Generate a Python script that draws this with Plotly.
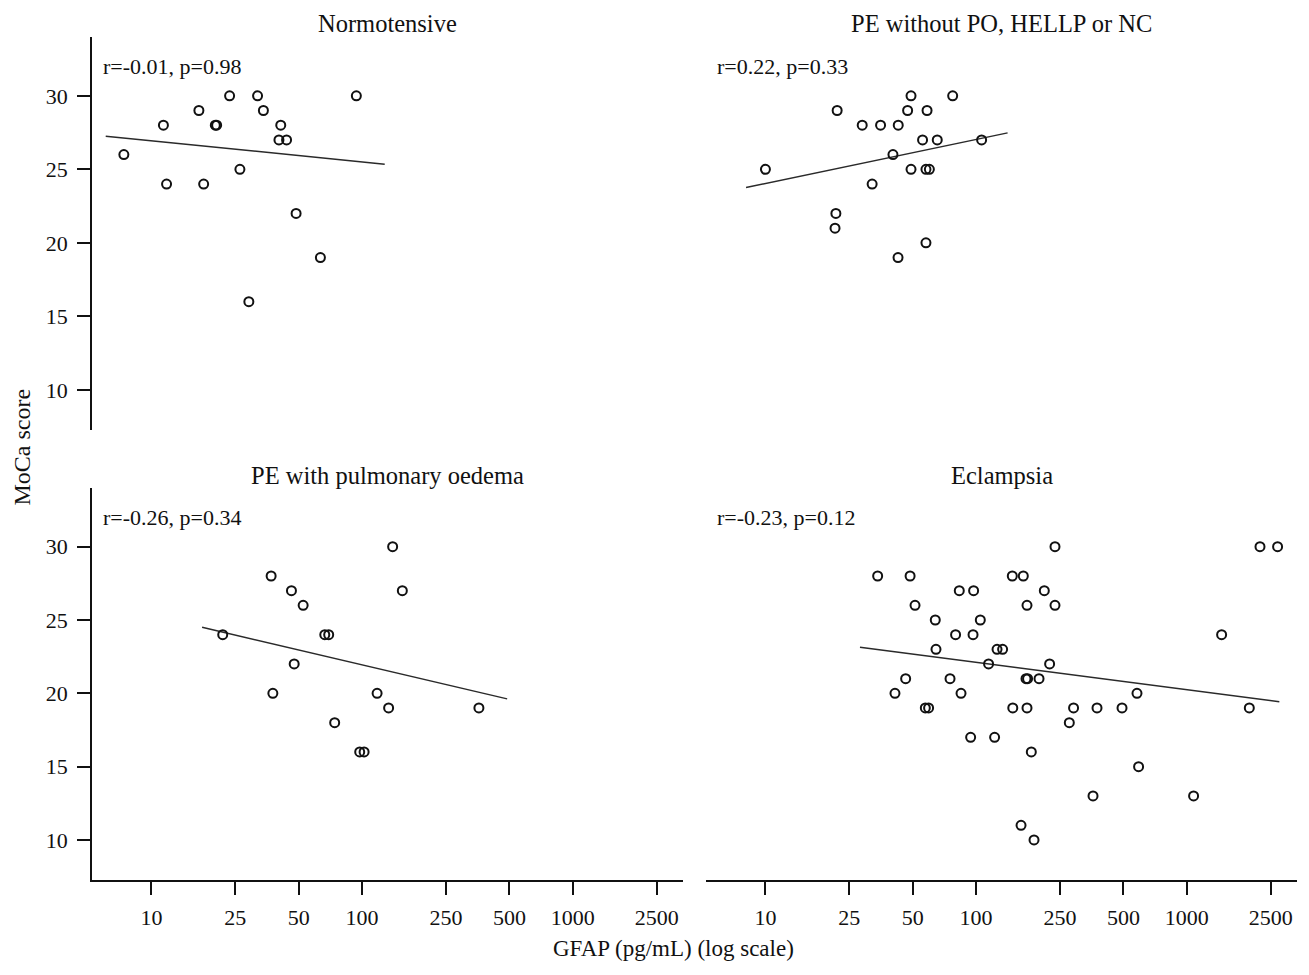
import plotly.graph_objects as go

# ---- data -----------------------------------------------------------------
panel_titles = ["Normotensive", "PE without PO, HELLP or NC",
                "PE with pulmonary oedema", "Eclampsia"]
stat_labels = ["r=-0.01, p=0.98", "r=0.22, p=0.33",
               "r=-0.26, p=0.34", "r=-0.23, p=0.12"]

normo_gfap = [7.4, 11.4, 11.8, 16.8, 17.7, 20.1, 20.4, 23.5, 26.3, 29.0,
              31.9, 34.0, 41.1, 40.3, 43.8, 48.6, 63.4, 93.9]
normo_moca = [26, 28, 24, 29, 24, 28, 28, 30, 25, 16,
              30, 29, 28, 27, 27, 22, 19, 30]

pe_gfap = [10.0, 21.9, 32.1, 28.8, 35.2, 42.7, 40.3, 49.1, 47.3, 58.5,
           77.4, 55.7, 65.4, 106.2, 49.1, 57.8, 60.0, 21.6, 21.4, 57.8, 42.6]
pe_moca = [25, 29, 24, 28, 28, 28, 26, 30, 29, 29,
           30, 27, 27, 27, 25, 25, 25, 22, 21, 20, 19]

po_gfap = [21.8, 37.0, 37.7, 46.2, 47.6, 52.5, 66.5, 69.4, 74.1, 97.4,
           102.2, 117.8, 133.6, 139.6, 155.2, 358.4]
po_moca = [24, 28, 20, 27, 22, 26, 24, 24, 18, 16,
           16, 20, 19, 30, 27, 19]

ecl_gfap = [34.1, 48.6, 148.5, 167.5, 83.2, 97.3, 210.7, 51.3, 174.4, 236.8,
            64.0, 104.7, 79.9, 96.7, 1463, 64.5, 125.7, 133.6, 114.6, 223.3,
            46.3, 75.2, 172.5, 175.5, 198.9, 41.2, 84.8, 580.2, 57.4, 59.5,
            149.3, 174.4, 290.1, 374.8, 492.6, 1980, 276.9, 94.2, 122.4, 182.8,
            590.4, 358.8, 1077, 163.4, 188.3, 236.8, 2225, 2697]
ecl_moca = [28, 28, 28, 28, 27, 27, 27, 26, 26, 26,
            25, 25, 24, 24, 24, 23, 23, 23, 22, 22,
            21, 21, 21, 21, 21, 20, 20, 20, 19, 19,
            19, 19, 19, 19, 19, 19, 18, 17, 17, 16,
            15, 13, 13, 11, 10, 30, 30, 30]

# fitted regression lines (end points)
fit_gfap = [[6.07, 128.0], [8.09, 141.1], [17.4, 488.0], [28.1, 2749.0]]
fit_moca = [[27.25, 25.35], [23.76, 27.48], [24.5, 19.62], [23.14, 19.43]]

x_ticks = [10, 25, 50, 100, 250, 500, 1000, 2500]
x_tick_text = [str(v) for v in x_ticks]
y_ticks = [10, 15, 20, 25, 30]

# ---- figure ---------------------------------------------------------------
W, H = 1309, 975
FONT = "Liberation Serif"
INK = "#111111"


def px_x(p):
    return p / W


def px_y(p):
    return 1 - p / H


x_domains = [[px_x(92), px_x(683)], [px_x(706), px_x(1297)]]
y_domains = [[px_y(430), px_y(37)], [px_y(880), px_y(488)]]

gfap = [normo_gfap, pe_gfap, po_gfap, ecl_gfap]
moca = [normo_moca, pe_moca, po_moca, ecl_moca]

fig = go.Figure()
layout = dict(
    width=W, height=H,
    margin=dict(l=0, r=0, t=0, b=0),
    paper_bgcolor="white", plot_bgcolor="white",
    showlegend=False,
    font=dict(family=FONT, color=INK, size=22),
)
annotations = []

for i in range(4):
    row, col = divmod(i, 2)
    n = i + 1
    xa = "x" if n == 1 else f"x{n}"
    ya = "y" if n == 1 else f"y{n}"
    xkey = "xaxis" if n == 1 else f"xaxis{n}"
    ykey = "yaxis" if n == 1 else f"yaxis{n}"

    fig.add_trace(go.Scatter(
        x=fit_gfap[i], y=fit_moca[i], mode="lines",
        line=dict(color="#2a2a2a", width=1.5),
        xaxis=xa, yaxis=ya, hoverinfo="skip"))
    fig.add_trace(go.Scatter(
        x=gfap[i], y=moca[i], mode="markers",
        marker=dict(symbol="circle-open", size=9, color=INK,
                    line=dict(width=2, color=INK)),
        xaxis=xa, yaxis=ya))

    bottom = row == 1
    left = col == 0
    layout[xkey] = dict(
        domain=x_domains[col], anchor=ya, type="log",
        range=[0.718, 3.523],
        tickvals=x_ticks, ticktext=x_tick_text,
        showticklabels=bottom, ticks="outside" if bottom else "",
        ticklen=13, tickwidth=1.5, tickcolor=INK,
        ticklabelstandoff=4,
        showline=bottom, linecolor=INK, linewidth=1.6,
        showgrid=False, zeroline=False,
        tickfont=dict(family=FONT, size=22, color=INK),
    )
    layout[ykey] = dict(
        domain=y_domains[row], anchor=xa,
        range=[7.27, 34.0],
        tickvals=y_ticks,
        showticklabels=left, ticks="outside" if left else "",
        ticklen=13, tickwidth=1.5, tickcolor=INK,
        ticklabelstandoff=5,
        showline=left, linecolor=INK, linewidth=1.6,
        showgrid=False, zeroline=False,
        tickfont=dict(family=FONT, size=22, color=INK),
    )

    # panel title
    title_y = [21.7, 473][row]
    annotations.append(dict(
        text=panel_titles[i], xref="paper", yref="paper",
        x=sum(x_domains[col]) / 2, y=px_y(title_y + 2),
        xanchor="center", yanchor="middle", showarrow=False,
        font=dict(family=FONT, size=24.5, color=INK)))
    # correlation label
    annotations.append(dict(
        text=stat_labels[i], xref=f"{xa} domain", yref=f"{ya} domain",
        x=0.016, y=1 - 29.5 / 393,
        xanchor="left", yanchor="middle", showarrow=False,
        font=dict(family=FONT, size=22, color=INK)))

annotations.append(dict(
    text="GFAP (pg/mL) (log scale)", xref="paper", yref="paper",
    x=px_x(673.5), y=px_y(948), xanchor="center", yanchor="middle",
    showarrow=False, font=dict(family=FONT, size=23, color=INK)))
annotations.append(dict(
    text="MoCa score", xref="paper", yref="paper",
    x=px_x(21.5), y=px_y(447), xanchor="center", yanchor="middle",
    textangle=-90, showarrow=False,
    font=dict(family=FONT, size=24, color=INK)))

layout["annotations"] = annotations
fig.update_layout(**layout)
fig.write_html("out.html")
